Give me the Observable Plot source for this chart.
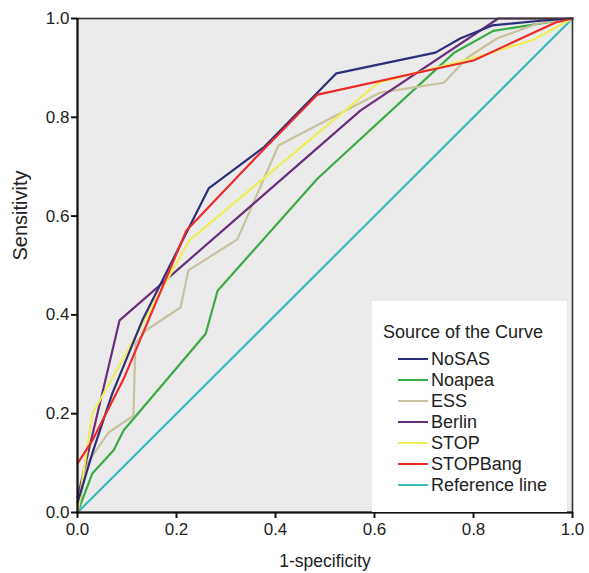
<!DOCTYPE html>
<html>
<head>
<meta charset="utf-8">
<script src="https://cdn.jsdelivr.net/npm/d3@7"></script>
<script src="https://cdn.jsdelivr.net/npm/@observablehq/plot@0.6"></script>
<style>
  html, body { margin: 0; padding: 0; background: white; }
  #wrap { position: relative; width: 589px; height: 573px; font-family: "Liberation Sans", Arial, Helvetica, sans-serif; }
  #legend { position: absolute; left: 372px; top: 301px; width: 195px; height: 211px; background: white; color: #222; }
  #legend .title { position: absolute; left: 11px; top: 21px; font-size: 18px; line-height: 20px; white-space: nowrap; }
  #legend .item { position: absolute; left: 26px; height: 20px; display: flex; align-items: center; font-size: 18px; white-space: nowrap; }
  #legend .sw { width: 30px; height: 2px; margin-right: 3px; }
</style>
</head>
<body>
<div id="wrap"></div>
<script>
// Series names and colours
const seriesNames = ["NoSAS", "Noapea", "ESS", "Berlin", "STOP", "STOPBang", "Reference line"];
const seriesColors = ["#2c2f78", "#3aaa45", "#c9c29e", "#6b2e7c", "#eeee5a", "#ec2b2b", "#3bb9bd"];

// 1-specificity (x) and sensitivity (y) per curve
const nosasX = [0, 0.03, 0.07, 0.131, 0.265, 0.376, 0.523, 0.723, 0.774, 0.838, 0.93, 1];
const nosasY = [0.02, 0.12, 0.24, 0.389, 0.656, 0.739, 0.889, 0.931, 0.96, 0.986, 0.995, 1];

const noapeaX = [0, 0.03, 0.073, 0.093, 0.259, 0.283, 0.485, 0.76, 0.84, 1];
const noapeaY = [0, 0.079, 0.126, 0.166, 0.362, 0.449, 0.676, 0.93, 0.975, 1];

const essX = [0, 0.02, 0.063, 0.113, 0.117, 0.137, 0.208, 0.224, 0.323, 0.406, 0.49, 0.612, 0.74, 0.788, 0.848, 0.93, 1];
const essY = [0, 0.1, 0.162, 0.196, 0.342, 0.368, 0.415, 0.49, 0.553, 0.743, 0.787, 0.85, 0.87, 0.921, 0.96, 0.99, 1];

const berlinX = [0, 0.085, 0.572, 0.85, 1];
const berlinY = [0.03, 0.389, 0.814, 1, 1];

const stopX = [0, 0.03, 0.226, 0.608, 0.8, 0.921, 1];
const stopY = [0, 0.2, 0.551, 0.87, 0.92, 0.957, 1];

const stopbangX = [0, 0.03, 0.093, 0.22, 0.376, 0.485, 0.8, 0.966, 1];
const stopbangY = [0.099, 0.146, 0.27, 0.571, 0.735, 0.846, 0.915, 0.992, 1];

const refX = [0, 1];
const refY = [0, 1];

const xTicks = [0, 0.2, 0.4, 0.6, 0.8, 1.0];
const yTicks = [0, 0.2, 0.4, 0.6, 0.8, 1.0];

const seriesXs = [nosasX, noapeaX, essX, berlinX, stopX, stopbangX, refX];
const seriesYs = [nosasY, noapeaY, essY, berlinY, stopY, stopbangY, refY];

const rows = [];
seriesNames.forEach((name, i) => {
  seriesXs[i].forEach((x, j) => rows.push({series: name, x, y: seriesYs[i][j]}));
});

const drawOrder = ["Reference line", "Noapea", "ESS", "Berlin", "STOP", "NoSAS", "STOPBang"];

const font = "'Liberation Sans', Arial, Helvetica, sans-serif";

const chart = Plot.plot({
  width: 589,
  height: 573,
  marginLeft: 77,
  marginRight: 17,
  marginTop: 18,
  marginBottom: 61,
  style: {fontFamily: font, fontSize: "17px", background: "white", color: "#222"},
  x: {domain: [0, 1], label: null},
  y: {domain: [0, 1], label: null},
  color: {domain: seriesNames, range: seriesColors},
  marks: [
    Plot.frame({fill: "#ebebeb", stroke: null}),
    ...drawOrder.map(name => Plot.line(rows.filter(d => d.series === name), {
      x: "x", y: "y", stroke: "series", strokeWidth: 2.2, strokeLinejoin: "miter"
    })),
    Plot.frame({stroke: "#333", strokeWidth: 1.6}),
    Plot.axisX({ticks: xTicks, tickFormat: d3.format(".1f"), tickSize: 6, tickPadding: 4, stroke: "#111", strokeWidth: 2, label: null, fontSize: 17}),
    Plot.axisY({ticks: yTicks, tickFormat: d3.format(".1f"), tickSize: 6, tickPadding: 2, stroke: "#111", strokeWidth: 2, label: null, fontSize: 17}),
    Plot.ruleY([0], {stroke: "#111", strokeWidth: 2}),
    Plot.ruleX([0], {stroke: "#111", strokeWidth: 2}),
    Plot.text(["1-specificity"], {frameAnchor: "bottom", dy: 49, lineAnchor: "middle", fontSize: 17.5, fill: "#222"}),
    Plot.text(["Sensitivity"], {frameAnchor: "left", dx: -57, dy: -5, rotate: -90, fontSize: 20, fill: "#222"})
  ]
});

const wrap = document.getElementById("wrap");
wrap.appendChild(chart);

// Legend (HTML overlay)
const legend = document.createElement("div");
legend.id = "legend";
const title = document.createElement("div");
title.className = "title";
title.textContent = "Source of the Curve";
legend.appendChild(title);
seriesNames.forEach((name, i) => {
  const item = document.createElement("div");
  item.className = "item";
  item.style.top = (48 + i * 21) + "px";
  const sw = document.createElement("div");
  sw.className = "sw";
  sw.style.background = seriesColors[i];
  item.appendChild(sw);
  const t = document.createElement("span");
  t.textContent = name;
  item.appendChild(t);
  legend.appendChild(item);
});
wrap.appendChild(legend);
</script>
</body>
</html>
